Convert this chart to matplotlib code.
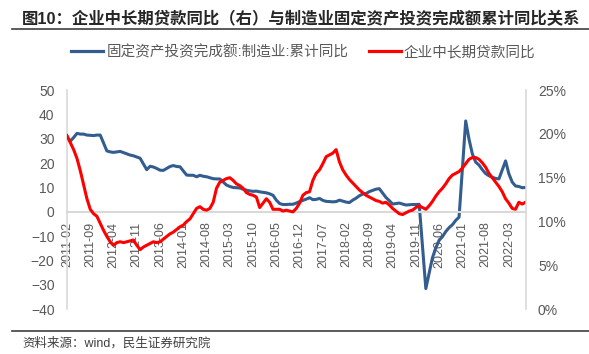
import numpy as np
import pandas as pd
import matplotlib
matplotlib.use('Agg')
import matplotlib.pyplot as plt
from matplotlib.lines import Line2D

plt.rcParams['font.family'] = ['Liberation Sans', 'Noto Sans CJK SC']

# monthly categories, 2011-02 .. 2022-08
months = pd.period_range('2011-02', '2022-08', freq='M')
labels = list(months.strftime('%Y-%m'))
tick_step = 7

nan = np.nan
# 固定资产投资完成额:制造业:累计同比 (%), January not published
fai_mfg = [
    30.5, 29.0, 30.5, 32.2, 31.9, 31.9, 31.5, 31.4, 31.3, 31.5, 31.5,            # 2011
    nan, 25.0, 24.6, 24.4, 24.6, 24.8, 24.3, 23.8, 23.3, 23.0, 22.5, 22.0,      # 2012
    nan, 17.3, 18.7, 18.4, 17.8, 17.1, 17.0, 17.8, 18.6, 19.0, 18.6, 18.5,      # 2013
    nan, 15.1, 15.0, 15.0, 14.4, 15.0, 14.6, 14.4, 14.0, 13.6, 13.5, 13.5,      # 2014
    nan, 11.0, 10.4, 10.0, 9.9, 9.8, 9.3, 8.9, 8.6, 8.4, 8.5, 8.2,              # 2015
    nan, 7.8, 7.4, 6.8, 4.8, 3.4, 3.0, 3.0, 3.1, 3.1, 3.6, 4.2,                 # 2016
    nan, 5.2, 5.8, 5.0, 5.1, 5.5, 4.7, 4.3, 4.2, 4.1, 4.2, 4.8,                 # 2017
    nan, 4.0, 3.8, 4.8, 5.6, 6.6, 7.3, 7.5, 8.3, 8.8, 9.3, 9.5,                 # 2018
    nan, 5.9, 4.6, 3.2, 3.4, 3.6, 3.2, 2.8, 2.9, 3.0, 3.0, 3.1,                 # 2019
    nan, -31.5, -25.2, -18.8, -14.8, -11.7, -10.2, -8.1, -6.5, -5.3, -3.5, -2.2,  # 2020
    nan, 37.3, 29.8, 23.8, 20.4, 19.2, 17.3, 15.7, 14.8, 14.2, 13.7, 13.5,      # 2021
    nan, 20.9, 15.6, 12.2, 10.6, 10.4, 9.9, 10.0,                               # 2022
]
# 企业中长期贷款同比 (%), right axis
loan_mlt = [
    19.8, 19.0, 18.2, 17.2, 15.8, 14.2, 12.6, 11.4, 10.9, 10.6, 9.8,            # 2011
    9.0, 8.3, 7.7, 7.3, 7.6, 7.7, 7.6, 7.7, 7.8, 7.9, 7.3, 6.8,                 # 2012
    7.1, 7.3, 7.5, 7.7, 7.6, 7.7, 8.0, 8.3, 8.6, 8.8, 9.1, 9.4,                 # 2013
    9.6, 10.0, 10.3, 10.9, 11.5, 11.7, 11.4, 11.3, 11.5, 12.2, 13.8, 14.5,      # 2014
    14.7, 14.9, 15.0, 14.7, 14.3, 14.1, 13.8, 13.3, 13.1, 13.0, 12.8, 11.6,     # 2015
    12.1, 12.6, 12.2, 11.4, 11.4, 11.4, 11.2, 11.3, 11.2, 11.1, 11.5, 12.1,     # 2016
    13.0, 13.3, 13.4, 14.7, 15.5, 15.9, 16.6, 17.4, 17.6, 17.8, 18.2, 16.8,     # 2017
    15.9, 15.3, 14.8, 14.4, 14.0, 13.6, 13.3, 13.0, 12.8, 12.6, 12.4, 12.3,     # 2018
    12.1, 12.2, 11.9, 11.5, 11.2, 10.9, 10.8, 11.0, 11.2, 11.3, 11.6, 11.8,     # 2019
    11.6, 11.4, 11.8, 12.3, 12.9, 13.4, 13.8, 14.3, 14.9, 15.3, 15.5, 15.7,     # 2020
    16.1, 16.6, 17.1, 17.3, 17.3, 17.1, 16.7, 16.2, 15.5, 15.0, 14.5, 14.0,     # 2021
    13.4, 12.6, 12.1, 11.5, 11.4, 12.2, 12.0, 12.2,                             # 2022
]

left_ticks = np.arange(-40, 51, 10)
right_ticks = np.arange(0, 26, 5)

blue = '#335d8f'
red = '#ff0000'
grey_txt = '#595959'
axis_col = '#d9d9d9'

x = np.arange(len(labels))
fai = np.array(fai_mfg, dtype=float)
ok = ~np.isnan(fai)

fig = plt.figure(figsize=(5.89, 3.54), dpi=100)
ax = fig.add_axes([67 / 589, 1 - 309.3 / 354, (525.5 - 67) / 589, (309.3 - 90) / 354])
ax2 = ax.twinx()

ax.plot(x[ok], fai[ok], color=blue, lw=2.2, solid_joinstyle='round')
ax2.plot(x, loan_mlt, color=red, lw=2.2, solid_joinstyle='round')

ax.set_xlim(0, len(labels) - 1)
ax.set_ylim(-40, 50)
ax2.set_ylim(0, 25)
ax.set_yticks(left_ticks)
ax2.set_yticks(right_ticks)
ax2.set_yticklabels([f'{t}%' for t in right_ticks])
ax.set_xticks(x[::tick_step])
ax.set_xticklabels(labels[::tick_step])

for a in (ax, ax2):
    a.tick_params(length=0, labelsize=10, colors=grey_txt)
    for s in a.spines.values():
        s.set_visible(False)
ax.tick_params(axis='y', pad=9)
ax2.tick_params(axis='y', pad=9)
ax.tick_params(axis='x', labelsize=9, pad=7, labelrotation=90)

ax.spines['left'].set_visible(True)
ax.spines['left'].set_color(axis_col)
ax.spines['left'].set_linewidth(1.2)
ax2.spines['right'].set_visible(True)
ax2.spines['right'].set_color(axis_col)
ax2.spines['right'].set_linewidth(1.2)
ax.spines['bottom'].set_visible(True)
ax.spines['bottom'].set_position(('data', 0))
ax.spines['bottom'].set_color(axis_col)
ax.spines['bottom'].set_linewidth(1.5)
ax.set_zorder(1)
ax2.set_zorder(2)

# legend
handles = [Line2D([], [], color=blue, lw=2.3), Line2D([], [], color=red, lw=2.3)]
leg = fig.legend(handles, ['固定资产投资完成额:制造业:累计同比', '企业中长期贷款同比'],
                 loc='center', bbox_to_anchor=(0.515, 1 - 52 / 354), ncol=2, frameon=False,
                 fontsize=10.5, handlelength=2.2, handletextpad=0.2, columnspacing=1.4,
                 labelcolor=grey_txt)

fig.text(22 / 589, 1 - 19 / 354, '图10：企业中长期贷款同比（右）与制造业固定资产投资完成额累计同比关系',
         fontsize=11.8, fontweight='bold', color='#262626', va='center', ha='left')
fig.add_artist(Line2D([12 / 589, 1], [1 - 28.5 / 354] * 2, color='#404040', lw=1.2))
fig.add_artist(Line2D([12 / 589, 1], [1 - 331 / 354] * 2, color='#404040', lw=1.2))
fig.text(22 / 589, 1 - 343 / 354, '资料来源：wind，民生证券研究院',
         fontsize=9, color='#404040', va='center', ha='left')

fig.savefig('out.png', dpi=100)
